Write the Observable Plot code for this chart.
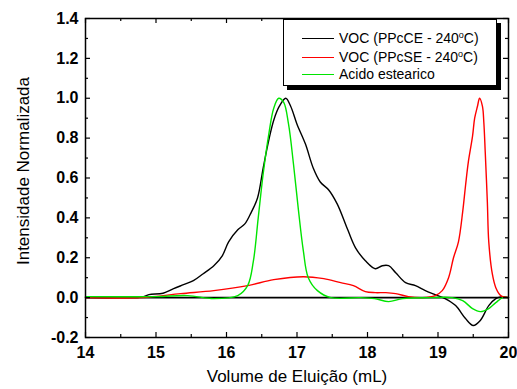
<!DOCTYPE html>
<html>
<head>
<meta charset="utf-8">
<script src="https://cdn.jsdelivr.net/npm/d3@7"></script>
<script src="https://cdn.jsdelivr.net/npm/@observablehq/plot@0.6"></script>
<style>
  html, body { margin: 0; padding: 0; background: #fff; }
  #wrap { position: relative; width: 517px; height: 389px; font-family: "Liberation Sans", Arial, sans-serif; }
  #legend { position: absolute; left: 283px; top: 19px; width: 214px; height: 67px; border: 1px solid #000; background: #fff; box-shadow: 4px 4px 0 #000; font-size: 14px; color: #000; box-sizing: border-box; }
  .row { position: absolute; left: 18px; height: 16px; display: flex; align-items: center; white-space: nowrap; }
  .sw { width: 32px; height: 0; border-top: 1.3px solid; margin-right: 5px; }
  sup { font-size: 9px; vertical-align: 5px; line-height: 0; }
</style>
</head>
<body>
<div id="wrap"></div>
<script>
// ---- data ----
const seriesNames = ["VOC (PPcCE - 240°C)", "VOC (PPcSE - 240°C)", "Acido estearico"];
const seriesColors = ["#000000", "#ff0000", "#00e400"];

const blackX = [14.0,14.5,14.8,14.9,15.1,15.25,15.39,15.53,15.67,15.82,15.94,16.03,16.16,16.26,16.34,16.44,16.52,16.6,16.67,16.75,16.84,16.91,17.0,17.12,17.23,17.33,17.45,17.57,17.72,17.83,17.97,18.11,18.21,18.3,18.4,18.54,18.68,18.82,18.96,19.1,19.25,19.39,19.5,19.6,19.72,19.82,19.91,20.0];
const blackY = [0,0,0.003,0.015,0.022,0.045,0.065,0.085,0.12,0.16,0.21,0.28,0.34,0.37,0.42,0.5,0.65,0.79,0.89,0.96,1.0,0.96,0.87,0.77,0.65,0.58,0.54,0.47,0.34,0.25,0.185,0.145,0.16,0.16,0.125,0.075,0.06,0.035,0.015,-0.005,-0.04,-0.105,-0.14,-0.115,-0.04,-0.005,0.005,0];

const redX = [14.0,14.8,15.35,15.82,16.3,16.67,17.09,17.38,17.62,17.8,17.97,18.11,18.26,18.4,18.58,18.78,18.96,19.06,19.15,19.22,19.29,19.35,19.39,19.43,19.49,19.52,19.56,19.59,19.63,19.65,19.67,19.7,19.72,19.77,19.82,19.89,20.0];
const redY = [0,0,0.02,0.035,0.06,0.09,0.105,0.095,0.075,0.06,0.03,0.025,0.025,0.02,0.005,0,0.01,0.035,0.1,0.2,0.28,0.43,0.56,0.68,0.81,0.9,0.96,1.0,0.96,0.88,0.73,0.48,0.28,0.12,0.05,0.01,0];

const greenX = [14.0,15.0,15.45,15.82,16.16,16.3,16.38,16.45,16.52,16.6,16.67,16.74,16.81,16.88,16.95,17.02,17.09,17.16,17.29,17.48,17.9,18.1,18.3,18.5,18.9,19.2,19.35,19.49,19.6,19.72,19.82,19.92,20.0];
const greenY = [0.005,0.005,0.01,-0.005,0.01,0.06,0.18,0.4,0.62,0.82,0.95,1.0,0.98,0.87,0.67,0.44,0.235,0.1,0.035,0,0,-0.005,-0.02,-0.005,0,0,-0.015,-0.055,-0.07,-0.055,-0.025,0,0];

const xMajor = [14,15,16,17,18,19,20];
const xMinor = [14.5,15.5,16.5,17.5,18.5,19.5];
const yMajor = [-0.2,0,0.2,0.4,0.6,0.8,1.0,1.2,1.4];
const yMinor = [-0.1,0.1,0.3,0.5,0.7,0.9,1.1,1.3];
const xLabel = "Volume de Eluição (mL)";
const yLabel = "Intensidade Normalizada";

// ---- build ----
const W = 517, H = 389, mL = 85, mR = 9, mT = 18, mB = 52;
const iw = W - mL - mR, ih = H - mT - mB;
const toRows = (xs, ys, s) => xs.map((x, i) => ({x, y: ys[i], s}));
const rows = [
  ...toRows(blackX, blackY, seriesNames[0]),
  ...toRows(redX, redY, seriesNames[1]),
  ...toRows(greenX, greenY, seriesNames[2])
];
const font = "'Liberation Sans', Arial, sans-serif";
const chart = Plot.plot({
  width: W, height: H,
  marginLeft: mL, marginRight: mR, marginTop: mT, marginBottom: mB,
  style: {fontFamily: font, background: "#fff", color: "#000"},
  x: {domain: [14, 20], axis: null},
  y: {domain: [-0.2, 1.4], axis: null},
  color: {domain: seriesNames, range: seriesColors},
  marks: [
    Plot.ruleY([0], {stroke: "#000", strokeWidth: 1.6}),
    Plot.line(rows, {x: "x", y: "y", z: "s", stroke: "s", strokeWidth: 1.4, curve: "catmull-rom"}),
    Plot.frame({stroke: "#000", strokeWidth: 1.5}),
    // inward ticks
    Plot.tickX(xMajor, {x: d => d, insetTop: ih - 5, stroke: "#000", strokeWidth: 1.2}),
    Plot.tickX(xMinor, {x: d => d, insetTop: ih - 3, stroke: "#000", strokeWidth: 1.2}),
    Plot.tickX(xMajor, {x: d => d, insetBottom: ih - 5, stroke: "#000", strokeWidth: 1.2}),
    Plot.tickX(xMinor, {x: d => d, insetBottom: ih - 3, stroke: "#000", strokeWidth: 1.2}),
    Plot.tickY(yMajor, {y: d => d, insetRight: iw - 5, stroke: "#000", strokeWidth: 1.2}),
    Plot.tickY(yMinor, {y: d => d, insetRight: iw - 3, stroke: "#000", strokeWidth: 1.2}),
    Plot.tickY(yMajor, {y: d => d, insetLeft: iw - 5, stroke: "#000", strokeWidth: 1.2}),
    Plot.tickY(yMinor, {y: d => d, insetLeft: iw - 3, stroke: "#000", strokeWidth: 1.2}),
    Plot.axisX(xMajor, {tickSize: 0, tickPadding: 9, label: null, fontSize: 16, fontWeight: "bold", tickFormat: d => String(d)}),
    Plot.axisY(yMajor, {tickSize: 0, tickPadding: 7, label: null, fontSize: 16, fontWeight: "bold", tickFormat: d => d.toFixed(1)}),
    Plot.text([xLabel], {text: d => d, frameAnchor: "bottom", dy: 44, fontSize: 17, fill: "#000"}),
    Plot.text([yLabel], {text: d => d, frameAnchor: "left", textAnchor: "middle", dx: -62, dy: -7, rotate: -90, fontSize: 17, fill: "#000"})
  ]
});
const wrap = document.getElementById("wrap");
wrap.appendChild(chart);

// legend
const leg = document.createElement("div");
leg.id = "legend";
const rowTops = [10, 29, 46];
seriesNames.forEach((name, i) => {
  const r = document.createElement("div");
  r.className = "row";
  r.style.top = rowTops[i] + "px";
  const sw = document.createElement("span");
  sw.className = "sw";
  sw.style.borderColor = seriesColors[i];
  r.appendChild(sw);
  const t = document.createElement("span");
  if (name.includes("°")) {
    const parts = name.split("°");
    t.innerHTML = parts[0] + "<sup>o</sup>" + parts[1];
  } else t.textContent = name;
  r.appendChild(t);
  leg.appendChild(r);
});
wrap.appendChild(leg);
</script>
</body>
</html>
